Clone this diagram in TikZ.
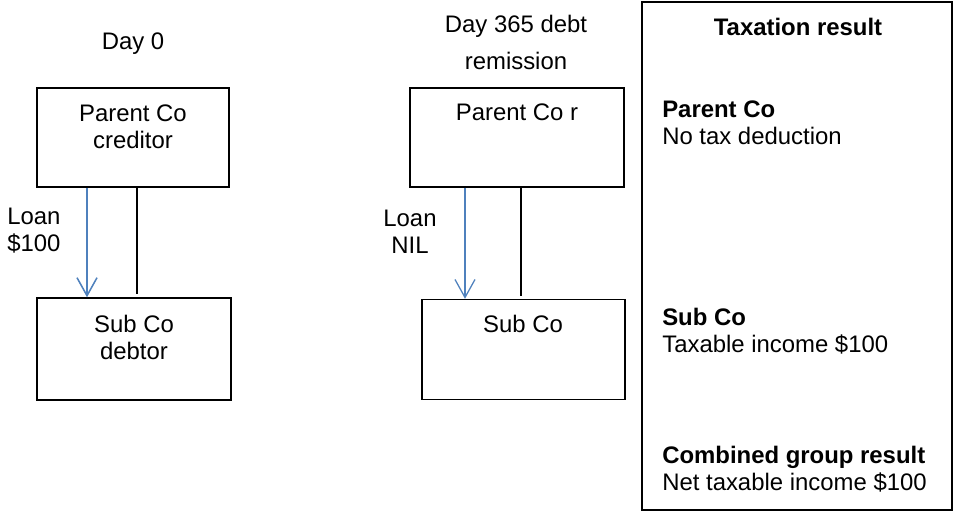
\documentclass[tikz,border=0pt]{standalone}
\usepackage{fontspec}
\setmainfont{Liberation Sans}
\usepackage{tikz}
\usetikzlibrary{positioning, arrows.meta}
\definecolor{loanblue}{RGB}{79,129,189}

\begin{document}
\begin{tikzpicture}[
    x=0.025cm, y=-0.025cm,
    font=\fontsize{17}{19}\selectfont,
    cobox/.style={rectangle, draw=black, line width=1pt, inner sep=0pt},
    label/.style={inner sep=0pt, align=center},
    note/.style={inner sep=0pt, align=left, anchor=north west},
    loan/.style={-{Straight Barb[length=0.45cm, width=0.5cm]}, draw=loanblue, line width=1.1pt},
    link/.style={draw=black, line width=1pt, shorten >=0.075cm}
]
    \useasboundingbox (0,0) rectangle (953,512);

    % Day 0
    \node[label, anchor=north] (d0) at (133,33) {Day 0};
    \node[cobox, minimum width=4.8cm, minimum height=2.475cm] (p0) at (133,137.5) {};
    \node[label, anchor=north] (p0t) at (133,105) {Parent Co\\creditor};
    \node[cobox, minimum width=4.85cm, minimum height=2.55cm] (s0) at (134,349) {};
    \node[label, anchor=north] (s0t) at (134,315) {Sub Co\\debtor};
    \node[label, align=left, anchor=north west] (l0) at (7,208) {Loan\\\$100};

    % Day 365
    \node[label, anchor=north] (d1) at (516,15) {Day 365 debt\\[7pt]remission};
    \node[cobox, minimum width=5.35cm, minimum height=2.475cm] (p1) at (517,137.5) {};
    \node[label, anchor=north] (p1t) at (517,104) {Parent Co r};
    \node[cobox, minimum width=5.075cm, minimum height=2.5cm] (s1) at (523.5,349.5) {};
    \node[label, anchor=north] (s1t) at (523,315) {Sub Co};
    \node[label, anchor=north] (l1) at (410,210) {Loan\\NIL};

    % Taxation result
    \node[cobox, minimum width=7.75cm, minimum height=12.7cm] (tax) at (797,256) {};
    \node[label, anchor=north, font=\fontsize{17}{19}\selectfont\bfseries] (taxt) at (798,18) {Taxation result};
    \node[note] (r1) at (662,101) {\textbf{Parent Co}\\No tax deduction};
    \node[note] (r2) at (662,308) {\textbf{Sub Co}\\Taxable income \$100};
    \node[note] (r3) at (662,446) {\textbf{Combined group result}\\Net taxable income \$100};

    % Arrows
    \coordinate (x0) at (87,0);
    \coordinate (y0) at (137,0);
    \coordinate (x1) at (465,0);
    \coordinate (y1) at (521,0);
    \draw[loan] (p0.south -| x0) -- (s0.north -| x0);
    \draw[link] (p0.south -| y0) -- (s0.north -| y0);
    \draw[loan, line width=0.9pt] (p1.south -| x1) -- (s1.north -| x1);
    \draw[link] (p1.south -| y1) -- (s1.north -| y1);

\end{tikzpicture}
\end{document}
